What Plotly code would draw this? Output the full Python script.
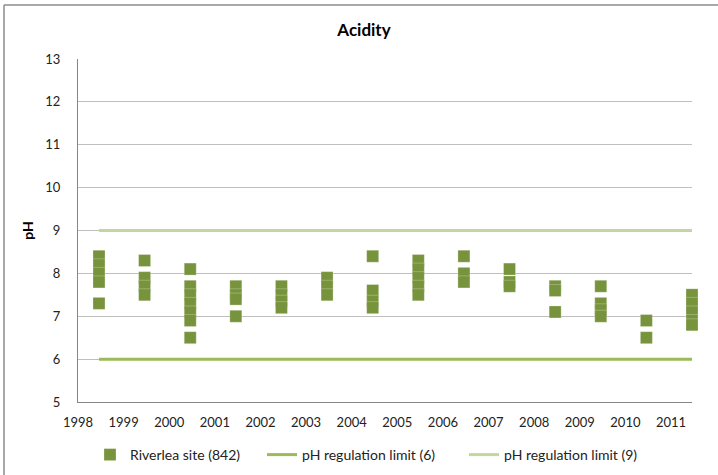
import plotly.graph_objects as go

# ---- data ----
years = [1998, 1999, 2000, 2001, 2002, 2003, 2004, 2005, 2006, 2007, 2008, 2009, 2010, 2011]
ph_by_year = [
    [8.4, 8.2, 8.0, 7.8, 7.3],
    [8.3, 7.9, 7.7, 7.5],
    [8.1, 7.7, 7.5, 7.3, 7.1, 6.9, 6.5],
    [7.7, 7.5, 7.4, 7.0],
    [7.7, 7.5, 7.35, 7.2],
    [7.9, 7.7, 7.5],
    [8.4, 7.6, 7.35, 7.2],
    [8.3, 8.1, 7.9, 7.7, 7.5],
    [8.4, 8.0, 7.8],
    [8.1, 7.8, 7.7],
    [7.7, 7.6, 7.1],
    [7.7, 7.3, 7.15, 7.0],
    [6.9, 6.5],
    [7.5, 7.3, 7.1, 6.9, 6.8],
]
limit_low = 6
limit_high = 9
x_ticks = list(range(1998, 2012))
y_ticks = list(range(5, 14))

SAMPLE_OFFSET = 0.46  # samples sit part-way through each year

xs, ys = [], []
for yr, vals in zip(years, ph_by_year):
    for v in vals:
        xs.append(yr + SAMPLE_OFFSET)
        ys.append(v)

x_first = years[0] + SAMPLE_OFFSET
x_last = years[-1] + SAMPLE_OFFSET

FONT = "Lato"
W, H = 718, 475
L, R, T, B = 78, 692, 59, 402
pw, ph = R - L, B - T


def px_x(p):
    return (p - L) / pw


def px_y(p):
    return (B - p) / ph


fig = go.Figure()
fig.add_trace(go.Scatter(
    x=xs, y=ys, mode="markers", name="Riverlea site (842)",
    marker=dict(symbol="square", size=12, color="#77933C",
                line=dict(color="rgba(255,255,255,0.45)", width=0.6)),
    cliponaxis=False, legend="legend",
))
fig.add_trace(go.Scatter(
    x=[x_first, x_last], y=[limit_low, limit_low], mode="lines",
    name="pH regulation limit (6)", line=dict(color="#9BBB59", width=3),
    legend="legend2",
))
fig.add_trace(go.Scatter(
    x=[x_first, x_last], y=[limit_high, limit_high], mode="lines",
    name="pH regulation limit (9)", line=dict(color="#C3D69B", width=3),
    legend="legend3",
))

leg_y = px_y(455)
leg_common = dict(orientation="h", xanchor="left", yanchor="middle",
                  y=leg_y, font=dict(size=14, color="#222"),
                  bgcolor="rgba(0,0,0,0)")

fig.update_layout(
    width=W, height=H,
    margin=dict(l=L, r=W - R, t=T, b=H - B, autoexpand=False),
    paper_bgcolor="white", plot_bgcolor="white",
    font=dict(family=FONT, size=13, color="#222"),
    title=dict(text="<b>Acidity</b>", x=364 / W, xanchor="center",
               y=1 - 30 / H, yanchor="middle", yref="container",
               font=dict(family=FONT, size=17, color="#000")),
    xaxis=dict(range=[years[0], x_last], tickvals=x_ticks,
               ticktext=[str(t) for t in x_ticks],
               showgrid=False, showline=True, linecolor="#868686",
               linewidth=1, ticks="", zeroline=False,
               ticklabelstandoff=8, tickfont=dict(size=13)),
    yaxis=dict(range=[5, 13], tickvals=y_ticks, showgrid=True,
               gridcolor="#BFBFBF", gridwidth=1, showline=True,
               linecolor="#868686", linewidth=1, ticks="", zeroline=False,
               ticklabelstandoff=14, tickfont=dict(size=13),
               title=dict(text="<b>pH</b>", standoff=8,
                          font=dict(size=14, color="#000"))),
    legend=dict(x=px_x(90), **leg_common),
    legend2=dict(x=px_x(262), **leg_common),
    legend3=dict(x=px_x(464), **leg_common),
    showlegend=True,
)

# chart-area frame (left and top edges visible)
bx = px_x(4)
by = px_y(5)
fig.add_shape(type="line", xref="paper", yref="paper", x0=bx, x1=bx,
              y0=px_y(480), y1=by, line=dict(color="#8C8C8C", width=1.5))
fig.add_shape(type="line", xref="paper", yref="paper", x0=bx, x1=px_x(725),
              y0=by, y1=by, line=dict(color="#8C8C8C", width=1.5))

fig.write_html("out.html", config={"displayModeBar": False},
               post_script="document.body.style.margin='0';")
